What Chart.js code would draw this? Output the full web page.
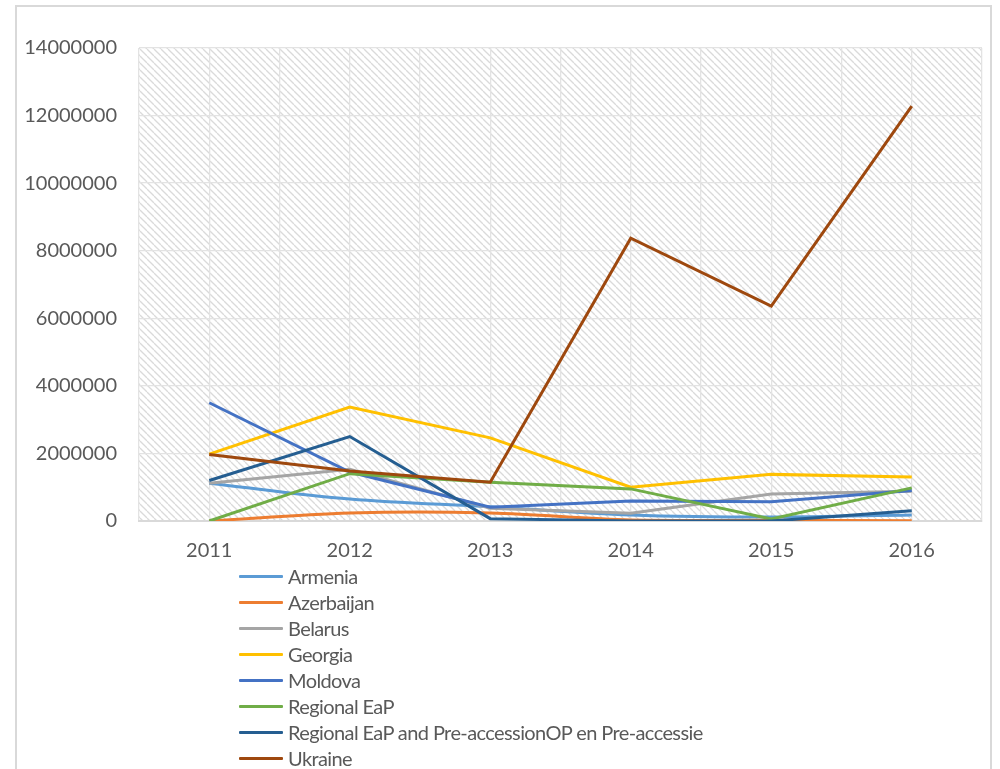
<!DOCTYPE html>
<html>
<head>
<meta charset="utf-8">
<script src="https://cdn.jsdelivr.net/npm/chart.js@4.4.1/dist/chart.umd.min.js"></script>
<style>
    html, body { margin: 0; padding: 0; background: #fff; }
    #wrap { position: relative; width: 1000px; height: 769px; overflow: hidden; }
    #frame { position: absolute; left: 15px; top: 5px; width: 977px; height: 800px; border: 2px solid #d9d9d9; box-sizing: border-box; }
    #chart { position: absolute; left: 0; top: 0; }
    #legend { position: absolute; left: 239px; top: 563px; font-family: Lato, sans-serif; font-size: 20px; letter-spacing: -0.6px; color: #595959; }
    #legend .item { height: 26px; display: flex; align-items: center; white-space: nowrap; }
    #legend .swatch { width: 44px; height: 3px; margin-right: 5px; border-radius: 1px; }
</style>
</head>
<body>
<div id="wrap">
    <div id="frame"></div>
    <canvas id="chart" width="1000" height="769"></canvas>
    <div id="legend"></div>
</div>
<script>
// Categories
const years = [2011, 2012, 2013, 2014, 2015, 2016];

// Series values
const armenia    = [1120000, 650000, 420000, 180000, 120000, 180000];
const azerbaijan = [0, 240000, 240000, 30000, 20000, 10000];
const belarus    = [1120000, 1530000, 380000, 230000, 800000, 880000];
const georgia    = [1980000, 3370000, 2460000, 1000000, 1380000, 1300000];
const moldova    = [3500000, 1450000, 410000, 590000, 570000, 900000];
const regionalEaP = [0, 1400000, 1150000, 950000, 60000, 980000];
const regionalPre = [1200000, 2500000, 70000, 0, 0, 300000];
const ukraine    = [1970000, 1480000, 1150000, 8370000, 6360000, 12280000];

const seriesNames = ["Armenia", "Azerbaijan", "Belarus", "Georgia", "Moldova",
    "Regional EaP", "Regional EaP and Pre-accessionOP en Pre-accessie", "Ukraine"];
const seriesValues = [armenia, azerbaijan, belarus, georgia, moldova, regionalEaP, regionalPre, ukraine];
const seriesColors = ["#5b9bd5", "#ed7d31", "#a5a5a5", "#ffc000", "#4472c4", "#70ad47", "#255e91", "#9e480e"];
const smoothed = [true, true, false, false, false, false, false, false];

// Y axis ticks
const yMax = 14000000;
const yStep = 2000000;

// Hatched plot background
function makeHatch() {
    const s = 7;
    const c = document.createElement("canvas");
    c.width = s;
    c.height = s;
    const g = c.getContext("2d");
    g.strokeStyle = "#dadada";
    g.lineWidth = 1.3;
    for (const off of [-s, 0, s]) {
        g.beginPath();
        g.moveTo(off, 0);
        g.lineTo(off + s, s);
        g.stroke();
    }
    return c;
}

const hatchPlugin = {
    id: "hatch",
    beforeDraw(chart) {
        const { ctx, chartArea } = chart;
        ctx.save();
        ctx.fillStyle = ctx.createPattern(makeHatch(), "repeat");
        ctx.fillRect(chartArea.left, chartArea.top, chartArea.right - chartArea.left, chartArea.bottom - chartArea.top);
        ctx.restore();
    }
};

const datasets = seriesNames.map((name, i) => ({
    label: name,
    data: seriesValues[i].map((v, j) => ({ x: years[j], y: v })),
    borderColor: seriesColors[i],
    backgroundColor: seriesColors[i],
    borderWidth: 3,
    pointRadius: 0,
    tension: smoothed[i] ? 0.35 : 0,
    fill: false,
    order: seriesNames.length - i,
}));

const tickFont = { family: "Lato", size: 20 };

const chart = new Chart(document.getElementById("chart").getContext("2d"), {
    type: "line",
    data: { datasets },
    options: {
        responsive: false,
        animation: false,
        layout: { padding: { left: 15, top: 48, right: 9, bottom: 188 } },
        plugins: {
            legend: { display: false },
            tooltip: { enabled: false },
        },
        scales: {
            x: {
                type: "linear",
                min: years[0] - 0.5,
                max: years[years.length - 1] + 0.5,
                ticks: {
                    stepSize: 0.5,
                    autoSkip: false,
                    maxRotation: 0,
                    padding: 18,
                    color: "#595959",
                    font: tickFont,
                    callback: (v) => Number.isInteger(v) ? String(v) : "",
                },
                grid: { color: "#e3e3e3", lineWidth: 1.3, drawTicks: false },
                border: { color: "#d9d9d9", width: 2 },
                afterFit: (s) => { s.height = 60; },
            },
            y: {
                min: 0,
                max: yMax,
                ticks: {
                    stepSize: yStep,
                    padding: 22,
                    color: "#595959",
                    font: tickFont,
                    callback: (v) => String(v),
                },
                grid: { color: "#e3e3e3", lineWidth: 1.3, drawTicks: false },
                border: { display: false },
                afterFit: (s) => { s.width = 124; },
            },
        },
    },
    plugins: [hatchPlugin],
});

// Legend, one entry per row
const legendEl = document.getElementById("legend");
chart.data.datasets.forEach((ds) => {
    const item = document.createElement("div");
    item.className = "item";
    const sw = document.createElement("span");
    sw.className = "swatch";
    sw.style.background = ds.borderColor;
    const txt = document.createElement("span");
    txt.textContent = ds.label;
    item.appendChild(sw);
    item.appendChild(txt);
    legendEl.appendChild(item);
});
</script>
</body>
</html>
